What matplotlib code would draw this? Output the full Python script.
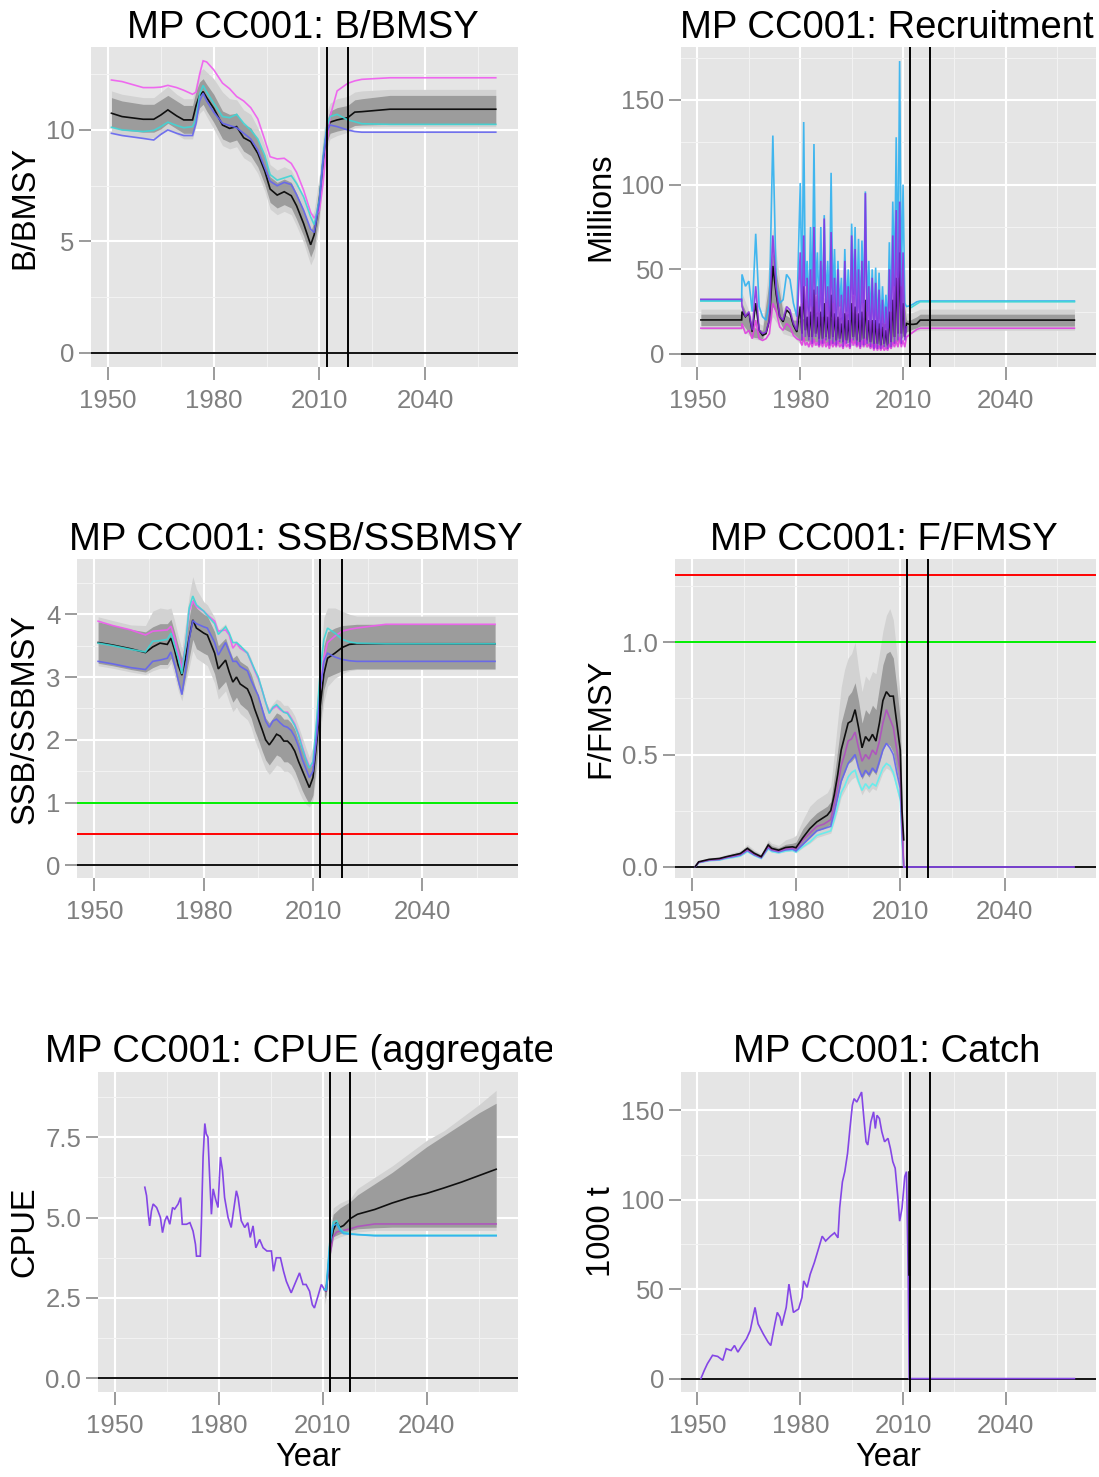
import numpy as np
import matplotlib
matplotlib.use("Agg")
import matplotlib.pyplot as plt
from matplotlib.transforms import Bbox, TransformedBbox

plt.rcParams["font.family"] = ["Liberation Sans", "DejaVu Sans"]

# ---------------- B/BMSY ----------------
bb_years = [1951, 1954, 1960, 1963, 1965, 1967, 1969.5, 1971.5, 1974, 1975,
            1976, 1977, 1978, 1980, 1982.5, 1984.5, 1986.5, 1988.5, 1990.5, 1992.5,
            1994.5, 1996, 1998, 2000, 2002, 2003.5, 2005.5, 2007.5, 2008.5, 2010,
            2011, 2012, 2013, 2015, 2018, 2020, 2022, 2030, 2060]
bb_median = [10.75, 10.6, 10.48, 10.48, 10.67, 10.9, 10.63, 10.45, 10.45, 11.1,
             11.55, 11.72, 11.45, 10.97, 10.22, 10.07, 10.15, 9.65, 9.48, 8.95,
             8.15, 7.35, 7.08, 7.23, 7.05, 6.6, 5.8, 4.85, 5.3, 6.9,
             8.6, 9.9, 10.35, 10.45, 10.55, 10.8, 10.82, 10.93, 10.93]
bb_pink = [12.24, 12.17, 11.9, 11.9, 11.92, 12.0, 11.9, 11.78, 11.6, 11.7,
           12.5, 13.1, 13.05, 12.7, 12.1, 11.85, 11.5, 11.3, 11.0, 10.5,
           9.55, 8.8, 8.7, 8.73, 8.5, 8.1, 7.3, 6.3, 6.05, 6.4,
           7.6, 9.2, 10.6, 11.75, 12.09, 12.2, 12.27, 12.34, 12.34]
bb_cyan = [10.12, 10.0, 9.93, 9.98, 10.15, 10.35, 10.2, 10.1, 10.15, 10.5,
           11.6, 12.0, 11.7, 11.2, 10.6, 10.55, 10.7, 10.3, 10.0, 9.6,
           8.85, 8.0, 7.75, 7.85, 7.95, 7.6, 7.0, 6.1, 5.75, 6.9,
           8.8, 10.1, 10.6, 10.7, 10.45, 10.37, 10.28, 10.25, 10.25]
bb_blue = [9.85, 9.75, 9.62, 9.55, 9.8, 10.0, 9.85, 9.75, 9.75, 10.3,
           11.3, 11.65, 11.3, 10.8, 10.3, 10.2, 10.1, 9.85, 9.6, 9.1,
           8.3, 7.7, 7.5, 7.65, 7.55, 7.1, 6.4, 5.55, 5.4, 6.8,
           8.6, 9.9, 10.22, 10.15, 10.0, 9.93, 9.9, 9.9, 9.9]
bb_in_hi = [11.45, 11.3, 11.15, 11.15, 11.35, 11.55, 11.3, 11.1, 11.1, 11.75,
            12.15, 12.3, 12.05, 11.6, 10.85, 10.7, 10.75, 10.25, 10.1, 9.55,
            8.75, 7.9, 7.65, 7.8, 7.65, 7.15, 6.4, 5.45, 5.9, 7.5,
            9.3, 10.4, 10.85, 11.0, 11.1, 11.35, 11.4, 11.55, 11.55]
bb_in_lo = [10.15, 10.0, 9.9, 9.9, 10.05, 10.3, 10.05, 9.85, 9.85, 10.5,
            11.0, 11.15, 10.85, 10.35, 9.6, 9.45, 9.55, 9.05, 8.85, 8.35,
            7.55, 6.75, 6.5, 6.65, 6.5, 6.0, 5.25, 4.3, 4.7, 6.3,
            8.1, 9.4, 9.85, 9.95, 10.05, 10.2, 10.22, 10.25, 10.25]
bb_out_hi = [11.75, 11.6, 11.45, 11.45, 11.7, 11.95, 11.6, 11.4, 11.4, 12.1,
             12.6, 12.75, 12.6, 12.3, 11.7, 11.4, 11.35, 10.9, 10.7, 10.1,
             9.3, 8.45, 8.2, 8.35, 8.2, 7.7, 6.95, 6.0, 6.4, 8.0,
             9.7, 10.8, 11.2, 11.4, 11.5, 11.7, 11.75, 11.82, 11.82]
bb_out_lo = [9.9, 9.75, 9.65, 9.65, 9.8, 10.05, 9.8, 9.6, 9.6, 10.2,
             10.75, 10.9, 10.6, 10.05, 9.3, 9.15, 9.25, 8.75, 8.55, 8.05,
             7.25, 6.45, 6.2, 6.35, 6.2, 5.7, 4.95, 3.95, 4.3, 5.9,
             7.7, 9.1, 9.6, 9.75, 9.9, 10.1, 10.13, 10.15, 10.15]

# ---------------- Recruitment ----------------
rec_years = np.concatenate([[1951, 1962.9], np.arange(1963, 1980),
                            np.arange(1980, 2011.5, 0.5), [2012, 2013, 2014, 2015, 2060]])
rec_sky = [31.8, 31.8,
           47, 40, 43, 25, 71, 28, 22, 20, 30, 129, 40, 30, 32, 47, 44, 30, 22,
           101, 30, 137, 40, 55, 25, 75, 28, 124, 35, 60, 25, 75, 22, 82, 30, 55, 25,
           107, 30, 62, 22, 55, 28, 45, 20, 62, 25, 50, 20, 77, 35, 75, 25, 68, 20,
           67, 30, 96, 25, 55, 20, 50, 18, 51, 15, 48, 15, 40, 18, 35, 15, 66, 25,
           90, 40, 128, 45, 173, 40, 100, 30, 28,
           28.5, 29.5, 30.8, 31.3, 31.3]
rec_purple = [32.3, 32.3,
              28, 22, 25, 14, 40, 14, 12, 13, 20, 70, 38, 22, 20, 28, 26, 18, 14,
              60, 8, 70, 10, 45, 8, 50, 6, 75, 10, 40, 5, 55, 6, 80, 8, 40, 5,
              72, 6, 45, 5, 50, 7, 35, 4, 55, 6, 40, 4, 70, 8, 62, 5, 50, 4,
              55, 5, 95, 6, 40, 4, 45, 3, 42, 3, 38, 3, 32, 4, 28, 3, 50, 4,
              70, 6, 85, 8, 90, 6, 60, 8, 16,
              np.nan, np.nan, np.nan, np.nan, np.nan]
rec_median = [20.1, 20.1,
              25, 22, 24, 13, 30, 14, 11, 12, 20, 52, 35, 22, 19, 26, 24, 17, 13,
              28, 12, 40, 14, 22, 10, 25, 10, 38, 12, 22, 9, 25, 9, 30, 10, 22, 9,
              35, 10, 24, 8, 22, 9, 18, 7, 24, 8, 20, 7, 30, 10, 28, 8, 24, 7,
              25, 9, 32, 8, 20, 7, 20, 6, 20, 6, 18, 5, 16, 6, 14, 5, 25, 7,
              32, 10, 45, 12, 60, 12, 30, 10, 18,
              17.5, 17.5, 17.8, 20, 20]
rec_pink = [15.2, 15.2,
            18, 12, 14, 9, 20, 9, 8, 9, 12, 30, 25, 16, 14, 18, 16, 11, 9,
            8, 5, 10, 5, 7, 4, 8, 4, 9, 5, 7, 4, 8, 4, 9, 4, 7, 3,
            8, 4, 7, 4, 8, 4, 6, 3, 8, 4, 6, 3, 9, 5, 8, 4, 7, 3,
            8, 4, 9, 4, 6, 3, 6, 2, 6, 2, 5, 2, 5, 2, 4, 2, 6, 3,
            7, 4, 8, 4, 10, 4, 8, 4, 10,
            11.5, 13, 14.5, 15.2, 15.2]
rec_cyan_years = [1951, 1962.9, np.nan, 2012, 2015, 2060]
rec_cyan = [31.2, 31.2, np.nan, 27, 30.8, 30.8]
rec_band_years = [1951, 1962.9, 1963, 1966, 1969, 1972, 1975, 1978, 1980, 1985,
                  1990, 1995, 2000, 2005, 2009, 2011, 2012, 2014, 2015, 2060]
rec_out_lo = [14.5, 14.5, 15, 9, 8, 22, 12, 10, 6, 5, 5, 5, 4, 3, 6, 10, 12, 13.5, 14, 14]
rec_in_lo = [16.8, 16.8, 18, 10, 9, 28, 15, 12, 8, 7, 6, 7, 5, 4, 8, 13, 14, 15.5, 16.5, 16.5]
rec_in_hi = [23.5, 23.5, 30, 16, 14, 60, 24, 20, 20, 25, 20, 25, 20, 18, 50, 20, 20, 22, 23.5, 23.5]
rec_out_hi = [26.5, 26.5, 36, 20, 17, 75, 28, 24, 30, 35, 30, 35, 28, 25, 70, 24, 24, 25.5, 26.5, 26.5]

# ---------------- SSB/SSBMSY ----------------
ssb_years = [1951, 1955, 1960, 1964, 1966, 1968, 1970, 1971, 1972, 1973,
             1974, 1975, 1976, 1977, 1978, 1980, 1981, 1983, 1984, 1986,
             1987, 1988, 1989, 1990, 1992, 1993, 1994, 1995, 1996, 1997,
             1998, 1999, 2000, 2001, 2002, 2003, 2004, 2005, 2006, 2007,
             2008, 2009, 2010, 2011, 2012, 2013, 2014, 2016, 2018, 2020,
             2022, 2030, 2060]
ssb_median = [3.55, 3.51, 3.45, 3.39, 3.48, 3.54, 3.52, 3.62, 3.43, 3.19,
              3.03, 3.3, 3.62, 3.91, 3.78, 3.70, 3.67, 3.38, 3.13, 3.27,
              3.08, 2.92, 3.0, 2.89, 2.81, 2.68, 2.49, 2.33, 2.17, 2.0,
              1.92, 2.0, 2.09, 2.06, 1.98, 1.98, 1.92, 1.82, 1.66, 1.52,
              1.38, 1.24, 1.4, 1.95, 2.55, 3.05, 3.3, 3.38, 3.47, 3.52,
              3.53, 3.53, 3.53]
ssb_pink = [3.89, 3.82, 3.75, 3.67, 3.73, 3.74, 3.75, 3.81, 3.62, 3.38,
            3.13, 3.5, 4.05, 4.21, 4.12, 4.05, 3.99, 3.89, 3.73, 3.75,
            3.67, 3.46, 3.54, 3.46, 3.38, 3.24, 3.1, 2.97, 2.8, 2.6,
            2.44, 2.5, 2.54, 2.48, 2.44, 2.44, 2.35, 2.25, 2.1, 1.9,
            1.72, 1.58, 1.6, 2.1, 2.8, 3.3, 3.55, 3.65, 3.73, 3.76,
            3.78, 3.84, 3.84]
ssb_cyan = [3.54, 3.5, 3.44, 3.4, 3.57, 3.58, 3.6, 3.7, 3.5, 3.3,
            3.05, 3.5, 4.1, 4.29, 4.15, 4.05, 3.98, 3.85, 3.68, 3.8,
            3.7, 3.55, 3.55, 3.5, 3.38, 3.25, 3.12, 3.0, 2.8, 2.6,
            2.42, 2.52, 2.56, 2.5, 2.44, 2.42, 2.33, 2.23, 2.08, 1.88,
            1.7, 1.55, 1.65, 2.3, 3.1, 3.6, 3.78, 3.7, 3.6, 3.56,
            3.54, 3.53, 3.53]
ssb_blue = [3.25, 3.21, 3.15, 3.12, 3.25, 3.27, 3.3, 3.4, 3.2, 2.95,
            2.72, 3.1, 3.6, 3.9, 3.85, 3.8, 3.78, 3.55, 3.35, 3.55,
            3.4, 3.25, 3.25, 3.17, 3.1, 2.95, 2.82, 2.7, 2.5, 2.3,
            2.2, 2.3, 2.33, 2.27, 2.22, 2.2, 2.15, 2.05, 1.9, 1.7,
            1.55, 1.4, 1.5, 2.05, 2.8, 3.25, 3.38, 3.32, 3.28, 3.26,
            3.25, 3.25, 3.25]
ssb_in_hi = [3.88, 3.83, 3.76, 3.72, 3.8, 3.85, 3.85, 3.92, 3.72, 3.5,
             3.3, 3.6, 3.95, 4.25, 4.1, 4.0, 3.97, 3.72, 3.5, 3.62,
             3.45, 3.3, 3.35, 3.25, 3.17, 3.05, 2.87, 2.7, 2.52, 2.35,
             2.27, 2.35, 2.43, 2.4, 2.33, 2.33, 2.27, 2.17, 2.0, 1.85,
             1.7, 1.56, 1.72, 2.3, 2.95, 3.5, 3.72, 3.78, 3.82, 3.83,
             3.84, 3.84, 3.84]
ssb_in_lo = [3.22, 3.18, 3.12, 3.08, 3.15, 3.2, 3.2, 3.3, 3.12, 2.88,
             2.72, 3.0, 3.3, 3.6, 3.45, 3.38, 3.35, 3.05, 2.8, 2.93,
             2.75, 2.6, 2.68, 2.57, 2.47, 2.35, 2.15, 2.0, 1.83, 1.68,
             1.6, 1.68, 1.76, 1.73, 1.65, 1.65, 1.6, 1.5, 1.35, 1.2,
             1.08, 0.98, 1.12, 1.65, 2.25, 2.8, 3.0, 3.05, 3.1, 3.12,
             3.13, 3.13, 3.13]
ssb_out_hi = [3.96, 3.9, 3.83, 3.82, 4.05, 4.1, 4.08, 4.1, 3.9, 3.65,
              3.45, 3.85, 4.3, 4.6, 4.4, 4.2, 4.15, 3.95, 3.75, 3.85,
              3.7, 3.55, 3.58, 3.5, 3.42, 3.3, 3.12, 2.95, 2.77, 2.6,
              2.5, 2.58, 2.65, 2.62, 2.55, 2.55, 2.48, 2.38, 2.22, 2.05,
              1.88, 1.72, 1.9, 2.55, 3.3, 3.95, 4.1, 4.1, 4.05, 4.0,
              3.97, 3.97, 3.97]
ssb_out_lo = [3.18, 3.14, 3.08, 3.04, 3.1, 3.14, 3.14, 3.22, 3.02, 2.78,
              2.62, 2.9, 3.15, 3.42, 3.3, 3.22, 3.18, 2.9, 2.65, 2.78,
              2.6, 2.45, 2.52, 2.42, 2.32, 2.2, 2.0, 1.85, 1.68, 1.53,
              1.45, 1.52, 1.6, 1.57, 1.5, 1.5, 1.45, 1.35, 1.2, 1.07,
              0.98, 0.93, 1.02, 1.5, 2.1, 2.6, 2.85, 2.98, 3.05, 3.1,
              3.12, 3.12, 3.12]

# ---------------- F/FMSY ----------------
f_years = [1951, 1952, 1955, 1958, 1960, 1962, 1964, 1966, 1968, 1970,
           1972, 1973, 1975, 1977, 1979, 1980, 1982, 1984, 1986, 1988,
           1989, 1990, 1991, 1992, 1993, 1994, 1995, 1996, 1997, 1998,
           1999, 2000, 2001, 2002, 2003, 2004, 2005, 2006, 2007, 2008,
           2009, 2010, 2010.5, 2011]
f_median = [0, 0.022, 0.033, 0.037, 0.045, 0.052, 0.059, 0.082, 0.06, 0.045,
            0.097, 0.082, 0.074, 0.086, 0.089, 0.085, 0.13, 0.17, 0.2, 0.22,
            0.23, 0.25, 0.32, 0.41, 0.52, 0.58, 0.64, 0.65, 0.70, 0.62,
            0.53, 0.58, 0.56, 0.59, 0.56, 0.64, 0.74, 0.78, 0.76, 0.76,
            0.64, 0.52, 0.25, 0.12]
f_pink = [0, 0.02, 0.03, 0.034, 0.042, 0.048, 0.055, 0.076, 0.056, 0.042,
          0.09, 0.077, 0.07, 0.08, 0.083, 0.08, 0.12, 0.15, 0.18, 0.19,
          0.2, 0.21, 0.28, 0.36, 0.45, 0.5, 0.56, 0.57, 0.6, 0.53,
          0.47, 0.5, 0.48, 0.52, 0.5, 0.56, 0.64, 0.7, 0.66, 0.62,
          0.52, 0.42, 0.2, 0.0]
f_blue = [0, 0.019, 0.029, 0.032, 0.04, 0.045, 0.052, 0.072, 0.053, 0.04,
          0.085, 0.073, 0.066, 0.075, 0.078, 0.07, 0.1, 0.13, 0.16, 0.17,
          0.175, 0.18, 0.24, 0.31, 0.38, 0.42, 0.46, 0.48, 0.5, 0.44,
          0.4, 0.43, 0.41, 0.44, 0.42, 0.47, 0.52, 0.55, 0.53, 0.5,
          0.42, 0.35, 0.15, 0.0]
f_cyan = [0, 0.018, 0.027, 0.03, 0.037, 0.042, 0.048, 0.068, 0.05, 0.037,
          0.08, 0.068, 0.062, 0.07, 0.073, 0.065, 0.09, 0.11, 0.14, 0.15,
          0.155, 0.16, 0.21, 0.27, 0.33, 0.36, 0.4, 0.42, 0.43, 0.38,
          0.34, 0.37, 0.35, 0.37, 0.36, 0.4, 0.44, 0.46, 0.45, 0.42,
          0.36, 0.3, 0.12, 0.0]
f_out_lo = [0, 0.017, 0.026, 0.029, 0.036, 0.04, 0.046, 0.065, 0.048, 0.035,
            0.077, 0.065, 0.06, 0.067, 0.07, 0.062, 0.085, 0.105, 0.13, 0.14,
            0.145, 0.15, 0.2, 0.25, 0.31, 0.34, 0.37, 0.39, 0.4, 0.36,
            0.32, 0.35, 0.33, 0.35, 0.34, 0.38, 0.42, 0.44, 0.43, 0.4,
            0.34, 0.28, 0.1, 0]
f_in_lo = [0, 0.019, 0.029, 0.032, 0.04, 0.045, 0.052, 0.072, 0.053, 0.04,
           0.085, 0.073, 0.066, 0.075, 0.078, 0.072, 0.1, 0.13, 0.16, 0.17,
           0.18, 0.19, 0.25, 0.31, 0.38, 0.42, 0.46, 0.47, 0.49, 0.44,
           0.39, 0.42, 0.4, 0.43, 0.41, 0.46, 0.52, 0.55, 0.54, 0.51,
           0.43, 0.36, 0.15, 0]
f_in_hi = [0, 0.025, 0.037, 0.042, 0.05, 0.058, 0.066, 0.092, 0.068, 0.052,
           0.11, 0.094, 0.085, 0.1, 0.105, 0.11, 0.17, 0.21, 0.24, 0.26,
           0.27, 0.29, 0.4, 0.52, 0.64, 0.7, 0.76, 0.78, 0.82, 0.74,
           0.64, 0.7, 0.68, 0.72, 0.7, 0.8, 0.9, 0.95, 0.96, 0.93,
           0.8, 0.65, 0.3, 0]
f_out_hi = [0, 0.028, 0.04, 0.046, 0.055, 0.064, 0.072, 0.1, 0.075, 0.058,
            0.12, 0.105, 0.095, 0.12, 0.13, 0.14, 0.21, 0.27, 0.3, 0.32,
            0.33, 0.36, 0.5, 0.65, 0.8, 0.88, 0.93, 0.95, 1.0, 0.88,
            0.78, 0.85, 0.83, 0.87, 0.86, 0.95, 1.05, 1.12, 1.15, 1.1,
            0.95, 0.75, 0.35, 0]
f_proj_years = [2011, 2060]
f_proj = [0, 0]

# ---------------- CPUE ----------------
cpue_obs_years = [1958.7, 1959.2, 1959.7, 1960.1, 1960.6, 1961.1, 1962.1, 1962.5, 1963.2, 1963.8,
                  1964.5, 1965.1, 1965.9, 1966.7, 1967.3, 1968.3, 1969.0, 1969.5, 1970.7, 1971.7,
                  1972.6, 1973.3, 1973.6, 1974.7, 1975.0, 1975.5, 1976.0, 1976.4, 1976.9, 1977.4,
                  1977.9, 1978.4, 1979.1, 1979.8, 1980.5, 1981.1, 1981.7, 1982.7, 1983.6, 1985.1,
                  1985.6, 1986.5, 1987.5, 1988.4, 1989.1, 1989.9, 1990.7, 1991.8, 1992.8, 1993.9,
                  1995.2, 1995.8, 1996.6, 1997.8, 1998.7, 1999.5, 2000.9, 2001.9, 2003.3, 2004.3,
                  2005.2, 2006.2, 2007.0, 2007.6, 2008.6, 2009.6, 2010.5]
cpue_obs = [5.94, 5.68, 5.1, 4.74, 5.2, 5.42, 5.31, 5.2, 5.0, 4.53,
            4.9, 5.05, 4.79, 5.31, 5.26, 5.42, 5.62, 4.79, 4.79, 4.84,
            4.58, 4.17, 3.8, 3.8, 4.79, 6.88, 7.92, 7.6, 7.5, 6.25,
            5.1, 5.89, 5.57, 5.31, 6.88, 6.46, 5.62, 5.0, 4.69, 5.83,
            5.62, 4.9, 4.69, 4.84, 4.38, 4.74, 4.06, 4.32, 4.06, 3.96,
            3.96, 3.33, 3.75, 3.75, 3.33, 3.02, 2.66, 2.92, 3.28, 2.92,
            2.92, 2.71, 2.29, 2.19, 2.55, 2.92, 2.76]
cpue_proj_years = [2010.5, 2011, 2012, 2013, 2014, 2015, 2016, 2018, 2020, 2025,
                   2030, 2035, 2040, 2045, 2050, 2055, 2060]
cpue_median = [2.76, 2.7, 3.9, 4.6, 4.85, 4.7, 4.75, 4.97, 5.1, 5.25,
               5.45, 5.62, 5.75, 5.92, 6.1, 6.3, 6.5]
cpue_pink = [2.76, 2.7, 3.8, 4.4, 4.55, 4.58, 4.6, 4.65, 4.72, 4.8,
             4.8, 4.8, 4.8, 4.8, 4.8, 4.8, 4.8]
cpue_sky = [2.76, 2.75, 4.1, 4.75, 4.8, 4.6, 4.5, 4.48, 4.47, 4.43,
            4.43, 4.43, 4.43, 4.43, 4.43, 4.43, 4.43]
cpue_cyan = [2.76, 2.8, 4.2, 4.85, 4.9, 4.65, 4.55, 4.5, 4.47, 4.45,
             4.45, 4.45, 4.45, 4.45, 4.45, 4.45, 4.45]
cpue_band_years = [2010.5, 2011, 2012, 2013, 2015, 2018, 2020, 2025, 2030, 2035,
                   2040, 2045, 2050, 2055, 2060]
cpue_out_lo = [2.3, 2.5, 3.6, 4.3, 4.4, 4.5, 4.55, 4.6, 4.6, 4.6, 4.6, 4.6, 4.6, 4.6, 4.6]
cpue_in_lo = [2.5, 2.6, 3.7, 4.4, 4.5, 4.6, 4.65, 4.68, 4.7, 4.7, 4.7, 4.7, 4.7, 4.7, 4.7]
cpue_in_hi = [2.9, 3.0, 4.4, 5.1, 5.3, 5.5, 5.7, 6.05, 6.4, 6.8, 7.2, 7.55, 7.9, 8.25, 8.55]
cpue_out_hi = [3.0, 3.2, 4.6, 5.3, 5.45, 5.6, 5.9, 6.25, 6.6, 7.0, 7.4, 7.7, 8.1, 8.5, 8.95]

# ---------------- Catch ----------------
catch_years = [1951.0, 1952.0, 1952.9, 1954.4, 1955.9, 1957.4, 1958.4, 1959.8, 1960.8, 1961.8,
               1963.3, 1964.3, 1965.4, 1966.2, 1966.8, 1967.7, 1969.2, 1970.6, 1971.4, 1972.6,
               1973.3, 1974.1, 1974.6, 1975.9, 1976.7, 1977.3, 1978.0, 1979.5, 1980.5, 1981.0,
               1982.0, 1982.9, 1984.1, 1985.4, 1986.4, 1987.4, 1988.8, 1990.0, 1991.0, 1991.5,
               1992.3, 1993.0, 1993.8, 1994.5, 1995.2, 1995.7, 1996.5, 1997.2, 1997.9, 1998.5,
               1999.2, 1999.7, 2000.6, 2001.4, 2001.9, 2002.4, 2003.1, 2003.8, 2004.6, 2005.6,
               2006.3, 2007.0, 2007.7, 2008.5, 2009.0, 2009.7, 2010.5, 2011.0, 2011.5, 2011.8,
               2060]
catch_vals = [0, 4.6, 8.3, 13, 12.4, 10.2, 16.7, 15.7, 18.5, 14.8,
              19.4, 22.2, 26.9, 34.3, 39.8, 30.6, 25, 20.4, 18.5, 30.6,
              37, 34.3, 29.6, 39.8, 52.8, 45.4, 37, 38.9, 45.4, 54.6,
              51, 58.3, 64.8, 73.1, 79.6, 76.9, 79.6, 81.5, 78.7, 95.4,
              110, 115.7, 125.9, 139.8, 152.8, 156.5, 154.6, 157.4, 160.2, 147,
              132.4, 130.6, 143.5, 149.1, 139.8, 147.2, 145.4, 138, 132.4, 134.3,
              128.7, 121.3, 117.6, 100.9, 88, 95.4, 113, 115.7, 58.3, 0,
              0]
catch_med_years = [2011.6, 2011.6]
catch_med = [115.7, 58.3]

# ---------------- layout ----------------
W, H = 1099, 1477
XLIM = (1945.2, 2066.3)
VLINES = [2012, 2018]
TXT_GREY = "#7f7f7f"
LIGHT_BAND = "#D2D2D2"
DARK_BAND = "#9C9C9C"
PINK, CYAN, BLUE = "#F05CF0", "#3FD6D6", "#6464F0"
SKY, PURPLE, OBS = "#2FB1F0", "#8A2BE2", "#8446E6"

fig = plt.figure(figsize=(W / 100, H / 100), dpi=100)


def px_text(x, y, s, **kw):
    return fig.text(x / W, 1 - y / H, s, **kw)


def make_panel(box, ylim, yticks, ylabels, yminor):
    l, t, r, b = box
    ax = fig.add_axes([l / W, 1 - b / H, (r - l) / W, (b - t) / H])
    ax.set_facecolor("#E5E5E5")
    ax.set_xlim(*XLIM)
    ax.set_ylim(*ylim)
    ax.set_xticks([1950, 1980, 2010, 2040])
    ax.set_xticks([1965, 1995, 2025, 2055], minor=True)
    ax.set_yticks(yticks)
    ax.set_yticklabels(ylabels)
    ax.set_yticks(yminor, minor=True)
    ax.grid(which="major", color="white", lw=1.5)
    ax.grid(which="minor", color="#F2F2F2", lw=0.8)
    ax.set_axisbelow(True)
    for sp in ax.spines.values():
        sp.set_visible(False)
    ax.tick_params(which="major", length=9, width=1.1, color="#808080",
                   labelcolor=TXT_GREY, labelsize=18.5)
    ax.tick_params(axis="x", which="major", pad=7)
    ax.tick_params(axis="y", which="major", pad=3)
    ax.tick_params(which="minor", length=0)
    ax.axhline(0, color="black", lw=1.3, zorder=3)
    for v in VLINES:
        ax.axvline(v, color="black", lw=1.4, zorder=6)
    return ax


def bands(ax, x, olo, ilo, ihi, ohi):
    ax.fill_between(x, olo, ohi, color=LIGHT_BAND, lw=0, zorder=1)
    ax.fill_between(x, ilo, ihi, color=DARK_BAND, lw=0, zorder=1.5)


def line(ax, x, y, c, lw=1.2, alpha=0.9, z=4):
    ax.plot(x, y, color=c, lw=lw, alpha=alpha, zorder=z, solid_joinstyle="miter")


boxes = {
    "bb": (91, 47, 518, 367),
    "rec": (681, 47, 1096, 367),
    "ssb": (77, 559, 518, 878),
    "f": (675, 559, 1096, 878),
    "cpue": (98, 1072, 518, 1392),
    "catch": (681, 1072, 1096, 1392),
}

# B/BMSY
ax = make_panel(boxes["bb"], (-0.63, 13.72), [0, 5, 10], ["0", "5", "10"], [2.5, 7.5, 12.5])
bands(ax, bb_years, bb_out_lo, bb_in_lo, bb_in_hi, bb_out_hi)
line(ax, bb_years, bb_median, "black", z=3.5)
line(ax, bb_years, bb_pink, PINK)
line(ax, bb_years, bb_cyan, CYAN)
line(ax, bb_years, bb_blue, BLUE)

# Recruitment
ax = make_panel(boxes["rec"], (-7.7, 181.3), [0, 50, 100, 150], ["0", "50", "100", "150"],
                [25, 75, 125, 175])
bands(ax, rec_band_years, rec_out_lo, rec_in_lo, rec_in_hi, rec_out_hi)
line(ax, rec_years, rec_median, "black", alpha=0.9, z=3.5)
line(ax, rec_years, rec_pink, "#E040E0")
line(ax, rec_years, rec_sky, SKY)
line(ax, rec_cyan_years, rec_cyan, CYAN)
line(ax, rec_years, rec_purple, PURPLE, alpha=0.85)

# SSB/SSBMSY
ax = make_panel(boxes["ssb"], (-0.2, 4.88), [0, 1, 2, 3, 4], ["0", "1", "2", "3", "4"],
                [0.5, 1.5, 2.5, 3.5, 4.5])
ax.axhline(1.0, color="#00EE00", lw=1.4, zorder=3)
ax.axhline(0.5, color="#FF0000", lw=1.4, zorder=3)
bands(ax, ssb_years, ssb_out_lo, ssb_in_lo, ssb_in_hi, ssb_out_hi)
line(ax, ssb_years, ssb_median, "black", z=3.5)
line(ax, ssb_years, ssb_pink, PINK)
line(ax, ssb_years, ssb_cyan, CYAN)
line(ax, ssb_years, ssb_blue, BLUE)

# F/FMSY
ax = make_panel(boxes["f"], (-0.05, 1.371), [0, 0.5, 1.0], ["0.0", "0.5", "1.0"],
                [0.25, 0.75, 1.25])
ax.axhline(1.0, color="#00EE00", lw=1.4, zorder=3)
ax.axhline(1.3, color="#FF0000", lw=1.4, zorder=3)
bands(ax, f_years, f_out_lo, f_in_lo, f_in_hi, f_out_hi)
line(ax, f_years, f_cyan, "#5FEFEF")
line(ax, f_years, f_blue, BLUE)
line(ax, f_years, f_pink, "#B050C0")
line(ax, f_years, f_median, "black", z=4.5)
line(ax, f_proj_years, f_proj, "#8A4AF0", alpha=1, z=5)

# CPUE
ax = make_panel(boxes["cpue"], (-0.42, 9.52), [0, 2.5, 5, 7.5], ["0.0", "2.5", "5.0", "7.5"],
                [1.25, 3.75, 6.25, 8.75])
bands(ax, cpue_band_years, cpue_out_lo, cpue_in_lo, cpue_in_hi, cpue_out_hi)
line(ax, cpue_obs_years, cpue_obs, OBS, alpha=1)
line(ax, cpue_proj_years, cpue_median, "black", z=3.5)
line(ax, cpue_proj_years, cpue_pink, "#B050C0")
line(ax, cpue_proj_years, cpue_cyan, CYAN)
line(ax, cpue_proj_years, cpue_sky, SKY)

# Catch
ax = make_panel(boxes["catch"], (-7.5, 171.4), [0, 50, 100, 150], ["0", "50", "100", "150"],
                [25, 75, 125])
line(ax, catch_years, catch_vals, OBS, alpha=1, z=5)
line(ax, catch_med_years, catch_med, "black", lw=1.8, alpha=1, z=5.5)

# titles (the CPUE one runs past its column and is cut at the column edge)
titles = [("bb", "MP CC001: B/BMSY", 38), ("rec", "MP CC001: Recruitment", 38),
          ("ssb", "MP CC001: SSB/SSBMSY", 550), ("f", "MP CC001: F/FMSY", 550),
          ("cpue", "MP CC001: CPUE (aggregate)", 1062), ("catch", "MP CC001: Catch", 1062)]
for key, s, base in titles:
    l, t, r, b = boxes[key]
    tx = px_text((l + r) / 2 - 2, base, s, ha="center", va="baseline", fontsize=27.5,
                 color="black")
    if key == "cpue":
        tx.set_clip_box(TransformedBbox(Bbox.from_extents(0, 0, 552 / W, 1), fig.transFigure))
        tx.set_clip_on(True)

# axis labels
ylabels = [("bb", "B/BMSY", 25), ("rec", "Millions", 601), ("ssb", "SSB/SSBMSY", 25),
           ("f", "F/FMSY", 601), ("cpue", "CPUE", 25), ("catch", "1000 t", 601)]
for key, s, xc in ylabels:
    l, t, r, b = boxes[key]
    px_text(xc, (t + b) / 2, s, rotation=90, ha="center", va="center", fontsize=23.5,
            color="black")
for key in ("cpue", "catch"):
    l, t, r, b = boxes[key]
    px_text((l + r) / 2, 1458, "Year", ha="center", va="center", fontsize=23.5, color="black")

fig.savefig("out.png", dpi=100, facecolor="white")
